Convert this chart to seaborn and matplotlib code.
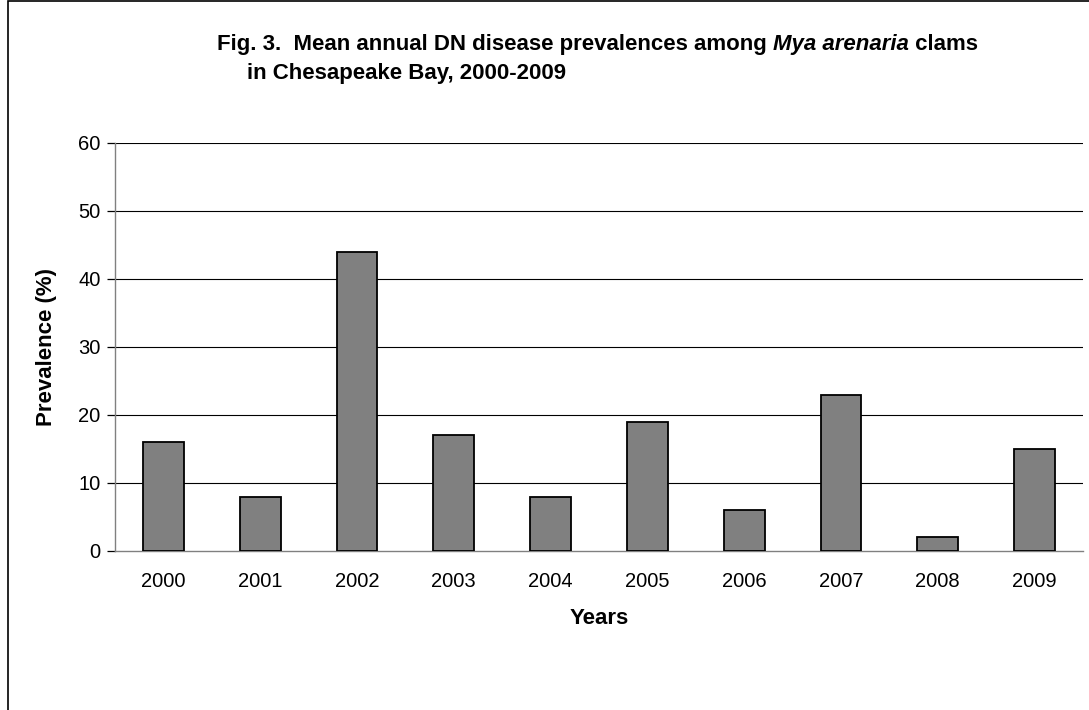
import matplotlib
matplotlib.use("Agg")
import matplotlib.pyplot as plt
import seaborn as sns
import pandas as pd
from matplotlib.patches import Rectangle

# data
years = ["2000", "2001", "2002", "2003", "2004", "2005", "2006", "2007", "2008", "2009"]
prevalence = [16, 8, 44, 17, 8, 19, 6, 23, 2, 15]
y_ticks = [0, 10, 20, 30, 40, 50, 60]

df = pd.DataFrame({"Years": years, "Prevalence": prevalence})

sns.set_theme(style="white")
plt.rcParams["font.family"] = ["Liberation Sans", "DejaVu Sans"]
plt.rcParams["text.color"] = "black"
plt.rcParams["axes.labelcolor"] = "black"
plt.rcParams["xtick.color"] = "black"
plt.rcParams["ytick.color"] = "black"

fig = plt.figure(figsize=(10.89, 7.10), dpi=100)
W, H = 1089, 710
ax = fig.add_axes([115 / W, 1 - 551 / H, (1083 - 115) / W, (551 - 143) / H])

sns.barplot(data=df, x="Years", y="Prevalence", color="#808080", width=0.42,
            edgecolor="black", linewidth=1.3, saturation=1, ax=ax, zorder=3)

ax.set_ylim(0, 60)
ax.set_xlim(-0.5, len(years) - 0.5)
ax.set_yticks(y_ticks)
ax.set_yticklabels([str(t) for t in y_ticks], fontsize=14.5)
for t in y_ticks[1:]:
    ax.axhline(t, color="black", lw=0.8, zorder=1)

# category boundary ticks on the x axis
ax.set_xticks([i - 0.5 for i in range(len(years) + 1)], minor=False)
ax.set_xticklabels([])
ax.set_xticks(range(len(years)), minor=True)
ax.set_xticklabels(years, minor=True, fontsize=14.5)
ax.tick_params(axis="x", which="major", direction="out", length=5, width=0.9, color="#808080")
ax.tick_params(axis="x", which="minor", length=0, pad=15)
ax.tick_params(axis="y", direction="out", length=5.5, width=0.9, color="black", pad=5, left=True)

for s in ["top", "right"]:
    ax.spines[s].set_visible(False)
for s in ["left", "bottom"]:
    ax.spines[s].set_color("#808080")
    ax.spines[s].set_linewidth(1.0)

ax.set_xlabel("Years", fontsize=16, fontweight="bold", labelpad=12)
ax.set_ylabel("Prevalence (%)", fontsize=16, fontweight="bold", labelpad=15)

# title with the italic species name
fig.canvas.draw()
r = fig.canvas.get_renderer()
fs_title = 16
y1 = 1 - 50 / H
t1 = fig.text(217 / W, y1, "Fig. 3.  Mean annual DN disease prevalences among ",
              fontsize=fs_title, fontweight="bold", va="baseline", ha="left")
bb = t1.get_window_extent(renderer=r)
t2 = fig.text(bb.x1 / W, y1, "Mya arenaria", fontsize=fs_title, fontweight="bold",
              style="italic", va="baseline", ha="left")
bb2 = t2.get_window_extent(renderer=r)
fig.text(bb2.x1 / W, y1, " clams", fontsize=fs_title, fontweight="bold", va="baseline", ha="left")
fig.text(247 / W, 1 - 79 / H, "in Chesapeake Bay, 2000-2009",
         fontsize=fs_title, fontweight="bold", va="baseline", ha="left")

# outer frame of the original chart area
fig.patches.append(Rectangle((8 / W, -0.1), 1.2, 1.1 - 1 / H, transform=fig.transFigure,
                             fill=False, edgecolor="black", lw=1.2))

fig.savefig("out.png", dpi=100)
